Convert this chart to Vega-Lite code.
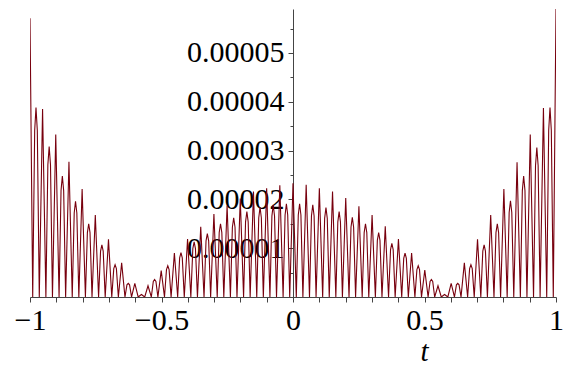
{
  "$schema": "https://vega.github.io/schema/vega-lite/v6.json",
  "width": 526,
  "height": 288,
  "autosize": "none",
  "padding": {"left": 30, "top": 9, "right": 9, "bottom": 77},
  "background": "white",
  "config": {"view": {"stroke": null}},
  "data": {"values": [
    {"t":-1,"y":5.71e-5},{"t":-0.9897,"y":0},
    {"t":-0.9822,"y":3.41e-5},{"t":-0.9772,"y":3.88e-5},{"t":-0.9722,"y":3.41e-5},{"t":-0.9647,"y":0},
    {"t":-0.9522,"y":3.85e-5},{"t":-0.9396,"y":0},
    {"t":-0.9321,"y":2.71e-5},{"t":-0.9271,"y":3.08e-5},{"t":-0.9221,"y":2.71e-5},{"t":-0.9146,"y":0},
    {"t":-0.9021,"y":3.33e-5},{"t":-0.8895,"y":0},
    {"t":-0.8820,"y":2.18e-5},{"t":-0.8770,"y":2.48e-5},{"t":-0.8720,"y":2.18e-5},{"t":-0.8645,"y":0},
    {"t":-0.8519,"y":2.77e-5},{"t":-0.8394,"y":0},
    {"t":-0.8319,"y":1.72e-5},{"t":-0.8269,"y":1.96e-5},{"t":-0.8219,"y":1.72e-5},{"t":-0.8143,"y":0},
    {"t":-0.8018,"y":2.21e-5},{"t":-0.7893,"y":0},
    {"t":-0.7818,"y":1.32e-5},{"t":-0.7768,"y":1.50e-5},{"t":-0.7718,"y":1.32e-5},{"t":-0.7642,"y":0},
    {"t":-0.7517,"y":1.68e-5},{"t":-0.7392,"y":0},
    {"t":-0.7317,"y":0.94e-5},{"t":-0.7267,"y":1.07e-5},{"t":-0.7217,"y":0.94e-5},{"t":-0.7141,"y":0},
    {"t":-0.7016,"y":1.18e-5},{"t":-0.6891,"y":0},
    {"t":-0.6815,"y":0.58e-5},{"t":-0.6765,"y":0.66e-5},{"t":-0.6715,"y":0.58e-5},{"t":-0.6640,"y":0},
    {"t":-0.6515,"y":0.70e-5},{"t":-0.6389,"y":0},
    {"t":-0.6314,"y":0.25e-5},{"t":-0.6264,"y":0.28e-5},{"t":-0.6214,"y":0.25e-5},{"t":-0.6139,"y":0},
    {"t":-0.6014,"y":0.28e-5},{"t":-0.5888,"y":0},
    {"t":-0.5763,"y":0.05e-5},{"t":-0.5638,"y":0},
    {"t":-0.5513,"y":0.23e-5},{"t":-0.5387,"y":0},
    {"t":-0.5312,"y":0.32e-5},{"t":-0.5262,"y":0.36e-5},{"t":-0.5212,"y":0.32e-5},{"t":-0.5137,"y":0},
    {"t":-0.5011,"y":0.54e-5},{"t":-0.4886,"y":0},
    {"t":-0.4811,"y":0.56e-5},{"t":-0.4761,"y":0.64e-5},{"t":-0.4711,"y":0.56e-5},{"t":-0.4635,"y":0},
    {"t":-0.4510,"y":0.90e-5},{"t":-0.4385,"y":0},
    {"t":-0.4310,"y":0.80e-5},{"t":-0.4260,"y":0.91e-5},{"t":-0.4210,"y":0.80e-5},{"t":-0.4134,"y":0},
    {"t":-0.4009,"y":1.19e-5},{"t":-0.3884,"y":0},
    {"t":-0.3809,"y":0.99e-5},{"t":-0.3759,"y":1.13e-5},{"t":-0.3709,"y":0.99e-5},{"t":-0.3633,"y":0},
    {"t":-0.3508,"y":1.44e-5},{"t":-0.3383,"y":0},
    {"t":-0.3307,"y":1.15e-5},{"t":-0.3257,"y":1.30e-5},{"t":-0.3207,"y":1.15e-5},{"t":-0.3132,"y":0},
    {"t":-0.3007,"y":1.70e-5},{"t":-0.2881,"y":0},
    {"t":-0.2806,"y":1.32e-5},{"t":-0.2756,"y":1.50e-5},{"t":-0.2706,"y":1.32e-5},{"t":-0.2631,"y":0},
    {"t":-0.2506,"y":1.87e-5},{"t":-0.2380,"y":0},
    {"t":-0.2305,"y":1.43e-5},{"t":-0.2255,"y":1.62e-5},{"t":-0.2205,"y":1.43e-5},{"t":-0.2130,"y":0},
    {"t":-0.2005,"y":2.02e-5},{"t":-0.1879,"y":0},
    {"t":-0.1804,"y":1.54e-5},{"t":-0.1754,"y":1.75e-5},{"t":-0.1704,"y":1.54e-5},{"t":-0.1629,"y":0},
    {"t":-0.1503,"y":2.16e-5},{"t":-0.1378,"y":0},
    {"t":-0.1303,"y":1.62e-5},{"t":-0.1253,"y":1.84e-5},{"t":-0.1203,"y":1.62e-5},{"t":-0.1128,"y":0},
    {"t":-0.1002,"y":2.23e-5},{"t":-0.0877,"y":0},
    {"t":-0.0802,"y":1.66e-5},{"t":-0.0752,"y":1.89e-5},{"t":-0.0702,"y":1.66e-5},{"t":-0.0627,"y":0},
    {"t":-0.0501,"y":2.29e-5},{"t":-0.0376,"y":0},
    {"t":-0.0301,"y":1.68e-5},{"t":-0.0251,"y":1.91e-5},{"t":-0.0201,"y":1.68e-5},{"t":-0.0125,"y":0},
    {"t":0,"y":2.33e-5},{"t":0.0125,"y":0},
    {"t":0.0201,"y":1.68e-5},{"t":0.0251,"y":1.91e-5},{"t":0.0301,"y":1.68e-5},{"t":0.0376,"y":0},
    {"t":0.0501,"y":2.30e-5},{"t":0.0627,"y":0},
    {"t":0.0702,"y":1.66e-5},{"t":0.0752,"y":1.89e-5},{"t":0.0802,"y":1.66e-5},{"t":0.0877,"y":0},
    {"t":0.1002,"y":2.23e-5},{"t":0.1128,"y":0},
    {"t":0.1203,"y":1.61e-5},{"t":0.1253,"y":1.83e-5},{"t":0.1303,"y":1.61e-5},{"t":0.1378,"y":0},
    {"t":0.1503,"y":2.16e-5},{"t":0.1629,"y":0},
    {"t":0.1704,"y":1.54e-5},{"t":0.1754,"y":1.75e-5},{"t":0.1804,"y":1.54e-5},{"t":0.1879,"y":0},
    {"t":0.2005,"y":2.03e-5},{"t":0.2130,"y":0},
    {"t":0.2205,"y":1.43e-5},{"t":0.2255,"y":1.63e-5},{"t":0.2305,"y":1.43e-5},{"t":0.2380,"y":0},
    {"t":0.2506,"y":1.86e-5},{"t":0.2631,"y":0},
    {"t":0.2706,"y":1.32e-5},{"t":0.2756,"y":1.50e-5},{"t":0.2806,"y":1.32e-5},{"t":0.2881,"y":0},
    {"t":0.3007,"y":1.68e-5},{"t":0.3132,"y":0},
    {"t":0.3207,"y":1.16e-5},{"t":0.3257,"y":1.32e-5},{"t":0.3307,"y":1.16e-5},{"t":0.3383,"y":0},
    {"t":0.3508,"y":1.45e-5},{"t":0.3633,"y":0},
    {"t":0.3709,"y":0.97e-5},{"t":0.3759,"y":1.10e-5},{"t":0.3809,"y":0.97e-5},{"t":0.3884,"y":0},
    {"t":0.4009,"y":1.19e-5},{"t":0.4134,"y":0},
    {"t":0.4210,"y":0.79e-5},{"t":0.4260,"y":0.90e-5},{"t":0.4310,"y":0.79e-5},{"t":0.4385,"y":0},
    {"t":0.4510,"y":0.90e-5},{"t":0.4635,"y":0},
    {"t":0.4711,"y":0.56e-5},{"t":0.4761,"y":0.64e-5},{"t":0.4811,"y":0.56e-5},{"t":0.4886,"y":0},
    {"t":0.5011,"y":0.55e-5},{"t":0.5137,"y":0},
    {"t":0.5212,"y":0.32e-5},{"t":0.5262,"y":0.36e-5},{"t":0.5312,"y":0.32e-5},{"t":0.5387,"y":0},
    {"t":0.5513,"y":0.23e-5},{"t":0.5638,"y":0},
    {"t":0.5763,"y":0.05e-5},{"t":0.5888,"y":0},
    {"t":0.6014,"y":0.28e-5},{"t":0.6139,"y":0},
    {"t":0.6214,"y":0.25e-5},{"t":0.6264,"y":0.28e-5},{"t":0.6314,"y":0.25e-5},{"t":0.6389,"y":0},
    {"t":0.6515,"y":0.70e-5},{"t":0.6640,"y":0},
    {"t":0.6715,"y":0.58e-5},{"t":0.6765,"y":0.66e-5},{"t":0.6815,"y":0.58e-5},{"t":0.6891,"y":0},
    {"t":0.7016,"y":1.18e-5},{"t":0.7141,"y":0},
    {"t":0.7217,"y":0.94e-5},{"t":0.7267,"y":1.07e-5},{"t":0.7317,"y":0.94e-5},{"t":0.7392,"y":0},
    {"t":0.7517,"y":1.68e-5},{"t":0.7642,"y":0},
    {"t":0.7718,"y":1.32e-5},{"t":0.7768,"y":1.50e-5},{"t":0.7818,"y":1.32e-5},{"t":0.7893,"y":0},
    {"t":0.8018,"y":2.21e-5},{"t":0.8143,"y":0},
    {"t":0.8219,"y":1.73e-5},{"t":0.8269,"y":1.97e-5},{"t":0.8319,"y":1.73e-5},{"t":0.8394,"y":0},
    {"t":0.8519,"y":2.76e-5},{"t":0.8645,"y":0},
    {"t":0.8720,"y":2.18e-5},{"t":0.8770,"y":2.48e-5},{"t":0.8820,"y":2.18e-5},{"t":0.8895,"y":0},
    {"t":0.9021,"y":3.33e-5},{"t":0.9146,"y":0},
    {"t":0.9221,"y":2.69e-5},{"t":0.9271,"y":3.06e-5},{"t":0.9321,"y":2.69e-5},{"t":0.9396,"y":0},
    {"t":0.9522,"y":3.87e-5},{"t":0.9647,"y":0},
    {"t":0.9722,"y":3.41e-5},{"t":0.9772,"y":3.88e-5},{"t":0.9822,"y":3.41e-5},{"t":0.9897,"y":0},
    {"t":1,"y":5.90e-5}
  ]},
  "mark": {"type": "line", "color": "#78000E", "strokeWidth": 1.1, "clip": true},
  "encoding": {
    "x": {
      "field": "t", "type": "quantitative",
      "scale": {"domain": [-1, 1], "nice": false, "zero": false},
      "axis": {
        "title": "t",
        "titleFont": "Liberation Serif", "titleFontStyle": "italic", "titleFontWeight": "normal",
        "titleFontSize": 29, "titleColor": "black",
        "titleX": 394, "titleY": 63, "titleAlign": "center", "titleBaseline": "alphabetic",
        "values": [-1,-0.9,-0.8,-0.7,-0.6,-0.5,-0.4,-0.3,-0.2,-0.1,0,0.1,0.2,0.3,0.4,0.5,0.6,0.7,0.8,0.9,1],
        "labelExpr": "abs(datum.value*2 - round(datum.value*2)) < 0.001 ? format(datum.value, '~g') : ''",
        "labelFont": "Liberation Serif", "labelFontSize": 30, "labelColor": "black",
        "labelPadding": 3, "labelOverlap": false, "labelFlush": false,
        "tickSize": 5, "tickColor": "#444", "domainColor": "#444", "grid": false
      }
    },
    "y": {
      "field": "y", "type": "quantitative",
      "scale": {"domain": [0, 0.000059], "nice": false},
      "axis": {
        "title": null, "offset": -263,
        "values": [0.000005,0.00001,0.000015,0.00002,0.000025,0.00003,0.000035,0.00004,0.000045,0.00005,0.000055],
        "labelExpr": "abs(datum.value*1e5 - round(datum.value*1e5)) < 0.01 ? format(datum.value, '.5f') : ''",
        "labelFont": "Liberation Serif", "labelFontSize": 30, "labelColor": "black",
        "labelPadding": 4, "labelOverlap": false, "labelFlush": false,
        "tickSize": {"condition": {"test": "abs(datum.value*1e5 - round(datum.value*1e5)) < 0.01", "value": 5}, "value": 3},
        "tickColor": "#444", "domainColor": "#444", "grid": false
      }
    }
  }
}
